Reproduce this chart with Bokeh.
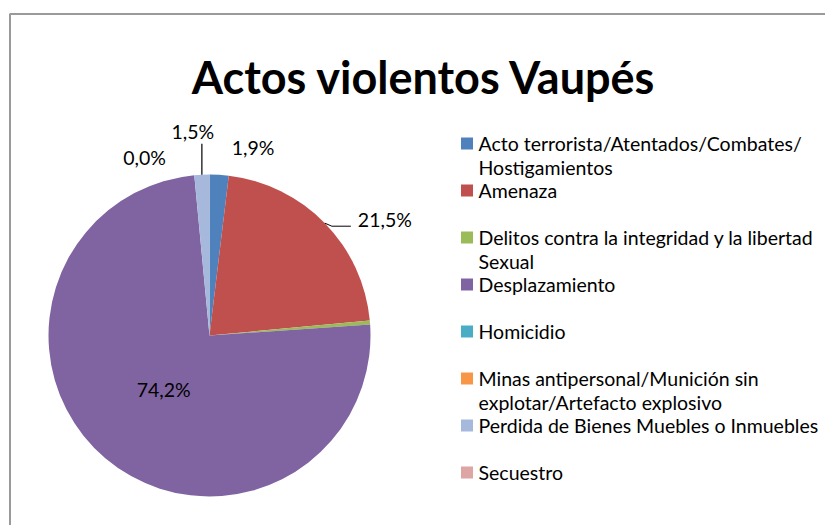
import math
from bokeh.plotting import figure
from bokeh.models import Range1d
from bokeh.core.properties import value
from bokeh.embed import file_html
from bokeh.resources import INLINE

# ---- data ----
categories = [
    "Acto terrorista/Atentados/Combates/ Hostigamientos",
    "Amenaza",
    "Delitos contra la integridad y la libertad Sexual",
    "Desplazamiento",
    "Homicidio",
    "Minas antipersonal/Munición sin explotar/Artefacto explosivo",
    "Perdida de Bienes Muebles o Inmuebles",
    "Secuestro",
]
legend_lines = [
    ["Acto terrorista/Atentados/Combates/", "Hostigamientos"],
    ["Amenaza"],
    ["Delitos contra la integridad y la libertad", "Sexual"],
    ["Desplazamiento"],
    ["Homicidio"],
    ["Minas antipersonal/Munición sin", "explotar/Artefacto explosivo"],
    ["Perdida de Bienes Muebles o Inmuebles"],
    ["Secuestro"],
]
percent = [1.9, 21.5, 0.4, 74.2, 0.0, 0.0, 1.5, 0.0]
pct_labels = ["1,9%", "21,5%", "", "74,2%", "", "", "1,5%", "0,0%"]
colors = ["#4F81BD", "#C0504D", "#9BBB59", "#8064A2",
          "#4BACC6", "#F79646", "#A6B8DC", "#DDA5A3"]

W, H = 825, 525
FONT = "Lato"

p = figure(width=W, height=H, output_backend="svg", toolbar_location=None,
           x_range=Range1d(0, W), y_range=Range1d(0, H), min_border=0)
p.axis.visible = False
p.grid.visible = False
p.outline_line_color = None
p.background_fill_color = "white"

def Y(py):
    return H - py

# frame (decoration)
p.line([9.5, 9.5, W], [0, Y(13.5), Y(13.5)], line_color="#9a9a9a", line_width=2)

# title
p.text(x=[424], y=[Y(76)], text=["Actos violentos Vaupés"], text_align="center",
       text_baseline="middle", text_font=value(FONT), text_font_style="bold",
       text_font_size="45px", text_color="black")

# pie
cx, cy, r = 209, Y(335), 161
total = sum(percent)
starts, ends, mids = [], [], []
acc = 0.0
for v in percent:
    a0 = acc / total * 2 * math.pi
    acc += v
    a1 = acc / total * 2 * math.pi
    starts.append(math.pi / 2 - a0)
    ends.append(math.pi / 2 - a1)
    mids.append((a0 + a1) / 2)

nz = [i for i, v in enumerate(percent) if v > 0]
p.wedge(x=cx, y=cy, radius=r,
        start_angle=[starts[i] for i in nz], end_angle=[ends[i] for i in nz],
        direction="clock", fill_color=[colors[i] for i in nz], line_color=None)

# data labels: layout per slice (kind, dx, dy in px)
label_layout = {
    0: ("out", 34, -27),
    1: ("out", 60, -4),
    3: ("in", 0, 0),
    6: ("out", -9, -43),
    7: ("out", -65, -17),
}
lx, ly, lt = [], [], []
for i, t in enumerate(pct_labels):
    if not t:
        continue
    kind, dx, dy = label_layout[i]
    a = mids[i]
    if kind == "in":
        rr = 0.44 * r
        lx.append(cx + rr * math.sin(a))
        ly.append(cy + rr * math.cos(a))
    else:
        ex = cx + r * math.sin(a)
        ey = cy + r * math.cos(a)
        lx.append(ex + dx)
        ly.append(ey - dy)
    lt.append(t)
p.text(x=lx, y=ly, text=lt, text_align="center", text_baseline="middle",
       text_font=value(FONT), text_font_size="19.5px", text_color="black")

# leader lines
a = mids[1]
ex, ey = cx + r * math.sin(a), cy + r * math.cos(a)
p.line([ex, ex + 7, ex + 26], [ey, ey - 3, ey - 3], line_color="black", line_width=1)
a = mids[6]
ex, ey = cx + r * math.sin(a), cy + r * math.cos(a)
p.line([ex, ex], [ey, ey + 31], line_color="black", line_width=1.2)

# legend
tx, ty, tt = [], [], []
sx, sy = [], []
for i, lines in enumerate(legend_lines):
    y0 = 143 + i * 47.0
    sx.append(466.5)
    sy.append(Y(y0))
    for j, line in enumerate(lines):
        tx.append(478)
        ty.append(Y(y0 + j * 24))
        tt.append(line)
p.rect(x=sx, y=sy, width=12, height=12, fill_color=colors, line_color=None)
p.text(x=tx, y=ty, text=tt, text_align="left", text_baseline="middle",
       text_font=value(FONT), text_font_size="19.5px", text_color="black")

open("out.html", "w").write(file_html(p, INLINE))
